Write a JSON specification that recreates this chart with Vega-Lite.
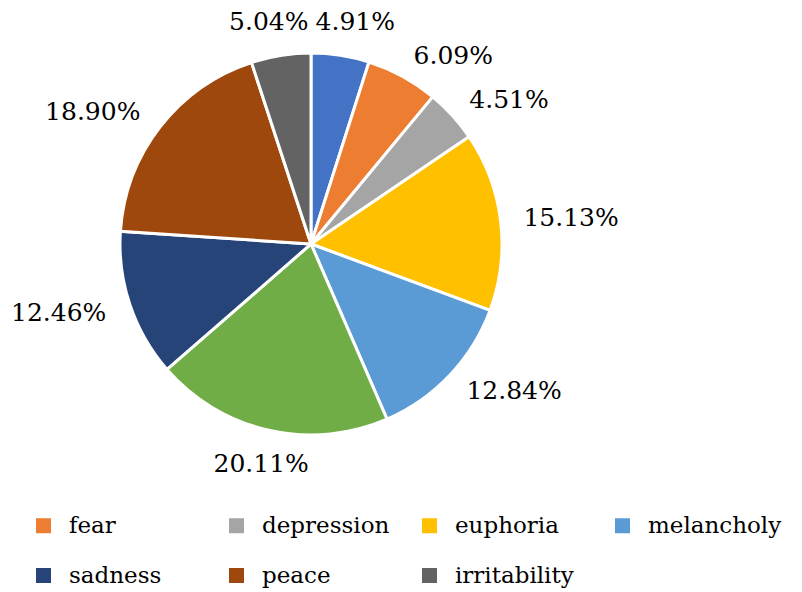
{
  "$schema": "https://vega.github.io/schema/vega-lite/v6.json",
  "width": 622,
  "height": 488,
  "autosize": "none",
  "padding": {"left": 0, "top": 0, "right": 180, "bottom": 104},
  "background": "white",
  "config": {"view": {"stroke": null}, "font": "DejaVu Serif"},
  "data": {
    "values": [
      {"emotion": "joy", "share": 0.0491, "order": 1},
      {"emotion": "fear", "share": 0.0609, "order": 2},
      {"emotion": "depression", "share": 0.0451, "order": 3},
      {"emotion": "euphoria", "share": 0.1513, "order": 4},
      {"emotion": "melancholy", "share": 0.1284, "order": 5},
      {"emotion": "calm", "share": 0.2011, "order": 6},
      {"emotion": "sadness", "share": 0.1246, "order": 7},
      {"emotion": "peace", "share": 0.1890, "order": 8},
      {"emotion": "irritability", "share": 0.0504, "order": 9}
    ]
  },
  "encoding": {
    "theta": {"field": "share", "type": "quantitative", "stack": true},
    "order": {"field": "order", "type": "quantitative", "sort": "ascending"},
    "color": {
      "field": "emotion",
      "type": "nominal",
      "scale": {
        "domain": ["joy", "fear", "depression", "euphoria", "melancholy", "calm", "sadness", "peace", "irritability"],
        "range": ["#4472C4", "#ED7D31", "#A5A5A5", "#FFC000", "#5B9BD5", "#70AD47", "#264478", "#9E480E", "#636363"]
      },
      "legend": {
        "values": ["fear", "depression", "euphoria", "melancholy", "sadness", "peace", "irritability"],
        "title": null,
        "orient": "none",
        "legendX": 32,
        "legendY": 514,
        "direction": "horizontal",
        "columns": 4,
        "gridAlign": "all",
        "columnPadding": 22,
        "rowPadding": 26,
        "padding": 0,
        "symbolType": "square",
        "symbolSize": 225,
        "symbolStrokeWidth": 0,
        "symbolOpacity": 1,
        "labelFont": "DejaVu Serif",
        "labelFontSize": 23,
        "labelColor": "black",
        "labelOffset": 14,
        "labelLimit": 300
      }
    }
  },
  "layer": [
    {
      "mark": {"type": "arc", "outerRadius": 191, "stroke": "white", "strokeWidth": 3}
    },
    {
      "mark": {"type": "text", "radius": 214, "align": "left", "fontSize": 25, "font": "DejaVu Serif", "color": "black"},
      "encoding": {
        "text": {"field": "share", "type": "quantitative", "format": ".2%"},
        "color": {"value": "black"},
        "opacity": {"condition": {"test": "datum.order >= 2 && datum.order <= 5", "value": 1}, "value": 0}
      }
    },
    {
      "mark": {"type": "text", "radius": 216, "align": "right", "fontSize": 25, "font": "DejaVu Serif", "color": "black"},
      "encoding": {
        "text": {"field": "share", "type": "quantitative", "format": ".2%"},
        "color": {"value": "black"},
        "opacity": {"condition": {"test": "datum.order == 7 || datum.order == 8", "value": 1}, "value": 0}
      }
    },
    {
      "mark": {"type": "text", "radius": 226, "align": "center", "fontSize": 25, "font": "DejaVu Serif", "color": "black"},
      "encoding": {
        "text": {"field": "share", "type": "quantitative", "format": ".2%"},
        "color": {"value": "black"},
        "opacity": {"condition": {"test": "datum.order == 6", "value": 1}, "value": 0}
      }
    },
    {
      "mark": {"type": "text", "radius": 225, "align": "left", "dx": -30, "fontSize": 25, "font": "DejaVu Serif", "color": "black"},
      "encoding": {
        "text": {"field": "share", "type": "quantitative", "format": ".2%"},
        "color": {"value": "black"},
        "opacity": {"condition": {"test": "datum.order == 1", "value": 1}, "value": 0}
      }
    },
    {
      "mark": {"type": "text", "radius": 225, "align": "right", "dx": 33, "fontSize": 25, "font": "DejaVu Serif", "color": "black"},
      "encoding": {
        "text": {"field": "share", "type": "quantitative", "format": ".2%"},
        "color": {"value": "black"},
        "opacity": {"condition": {"test": "datum.order == 9", "value": 1}, "value": 0}
      }
    }
  ]
}
